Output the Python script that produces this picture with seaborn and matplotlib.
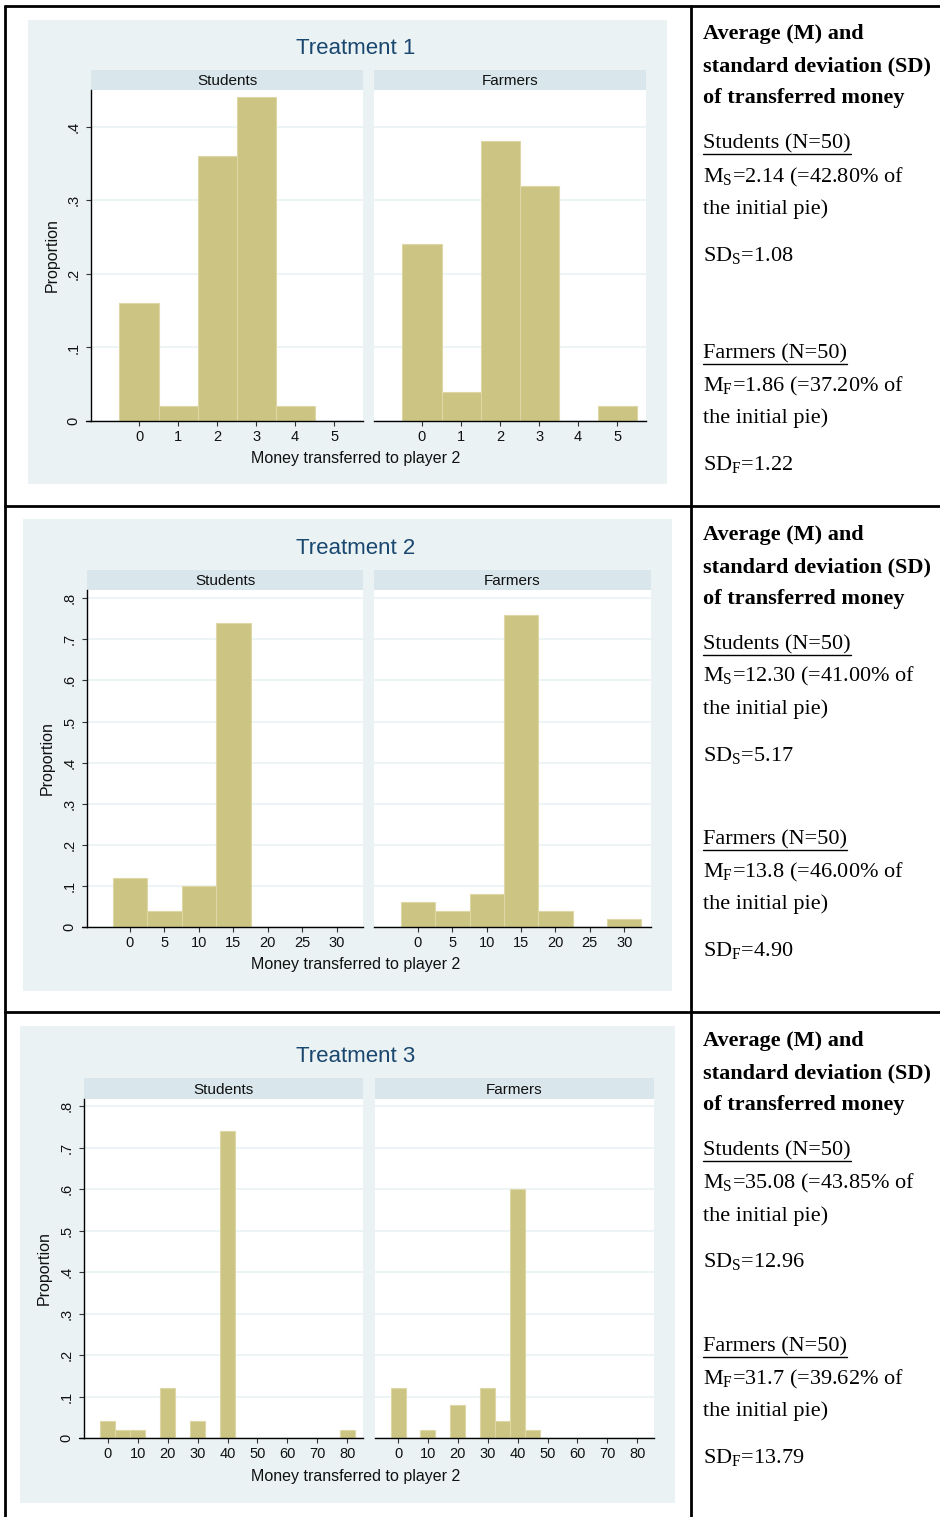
import numpy as np
import pandas as pd
import matplotlib
matplotlib.use("Agg")
import matplotlib.pyplot as plt
import seaborn as sns

# ---------------- data ----------------
t1_values = [0, 1, 2, 3, 4, 5]
t1_students = [0.16, 0.02, 0.36, 0.44, 0.02, 0.00]
t1_farmers = [0.24, 0.04, 0.38, 0.32, 0.00, 0.02]

t2_values = [0, 5, 10, 15, 20, 25, 30]
t2_students = [0.12, 0.04, 0.10, 0.74, 0.00, 0.00, 0.00]
t2_farmers = [0.06, 0.04, 0.08, 0.76, 0.04, 0.00, 0.02]

t3_values = [0, 5, 10, 15, 20, 25, 30, 35, 40, 45, 50, 55, 60, 65, 70, 75, 80]
t3_students = [0.04, 0.02, 0.02, 0.00, 0.12, 0.00, 0.04, 0.00, 0.74, 0.00, 0.00, 0.00, 0.00, 0.00, 0.00, 0.00, 0.02]
t3_farmers = [0.12, 0.00, 0.02, 0.00, 0.08, 0.00, 0.12, 0.04, 0.60, 0.02, 0.00, 0.00, 0.00, 0.00, 0.00, 0.00, 0.00]

titles = ["Treatment 1", "Treatment 2", "Treatment 3"]
groups = ["Students", "Farmers"]
bin_widths = [1, 5, 5]
x_ticks = [[0, 1, 2, 3, 4, 5], [0, 5, 10, 15, 20, 25, 30], [0, 10, 20, 30, 40, 50, 60, 70, 80]]
y_ticks = [[0, 0.1, 0.2, 0.3, 0.4], [0, 0.1, 0.2, 0.3, 0.4, 0.5, 0.6, 0.7, 0.8],
           [0, 0.1, 0.2, 0.3, 0.4, 0.5, 0.6, 0.7, 0.8]]
y_ticklabels = [["0", ".1", ".2", ".3", ".4"],
                ["0", ".1", ".2", ".3", ".4", ".5", ".6", ".7", ".8"],
                ["0", ".1", ".2", ".3", ".4", ".5", ".6", ".7", ".8"]]
xlabel = "Money transferred to player 2"
ylabel = "Proportion"

stats_text = [
    ("Students (N=50)", r"M$_\mathregular{S}$=2.14 (=42.80% of", "the initial pie)", r"SD$_\mathregular{S}$=1.08",
     "Farmers (N=50)", r"M$_\mathregular{F}$=1.86 (=37.20% of", "the initial pie)", r"SD$_\mathregular{F}$=1.22"),
    ("Students (N=50)", r"M$_\mathregular{S}$=12.30 (=41.00% of", "the initial pie)", r"SD$_\mathregular{S}$=5.17",
     "Farmers (N=50)", r"M$_\mathregular{F}$=13.8 (=46.00% of", "the initial pie)", r"SD$_\mathregular{F}$=4.90"),
    ("Students (N=50)", r"M$_\mathregular{S}$=35.08 (=43.85% of", "the initial pie)", r"SD$_\mathregular{S}$=12.96",
     "Farmers (N=50)", r"M$_\mathregular{F}$=31.7 (=39.62% of", "the initial pie)", r"SD$_\mathregular{F}$=13.79"),
]

# ---------------- style ----------------
sns.set_theme(style="white")
plt.rcParams["font.family"] = ["Liberation Sans", "DejaVu Sans"]
plt.rcParams["mathtext.fontset"] = "custom"
plt.rcParams["mathtext.rm"] = "Liberation Serif"
plt.rcParams["mathtext.it"] = "Liberation Serif"

W, H = 940, 1517
fig = plt.figure(figsize=(W / 100, H / 100), dpi=100)
fig.patch.set_facecolor("white")

PANEL_BG = "#EAF2F3"
STRIP_BG = "#D9E6EC"
BAR = "#CCC482"
BAR_EDGE = "#DCD7A4"
TITLE_C = "#1A476F"


def rect(x0, y0, x1, y1):
    return [x0 / W, 1 - y1 / H, (x1 - x0) / W, (y1 - y0) / H]


layouts = [
    dict(panel=(28, 20, 667, 484), title_y=48, strip_top=70, plot_top=90, plot_bot=421,
         cols=[(91, 363), (374, 646)], ylim=(0, 0.45), xlims=[(-1.23, 5.74), (-1.23, 5.74)],
         xlabel_y=459, ylabel_x=52, title_x=356),
    dict(panel=(23, 519, 672, 991), title_y=549, strip_top=570, plot_top=590, plot_bot=927,
         cols=[(87, 363), (374, 651)], ylim=(0, 0.82), xlims=[(-6.2, 33.8), (-6.4, 33.9)],
         xlabel_y=965, ylabel_x=47, title_x=356),
    dict(panel=(20, 1026, 675, 1503), title_y=1056, strip_top=1078, plot_top=1099, plot_bot=1438,
         cols=[(84, 363), (375, 654)], ylim=(0, 0.817), xlims=[(-8.0, 85.3), (-7.7, 85.6)],
         xlabel_y=1476, ylabel_x=44, title_x=356),
]

data_rows = [
    (t1_values, [t1_students, t1_farmers]),
    (t2_values, [t2_students, t2_farmers]),
    (t3_values, [t3_students, t3_farmers]),
]

line_ax = fig.add_axes([0, 0, 1, 1], zorder=5)
line_ax.set_xlim(0, W); line_ax.set_ylim(H, 0)
line_ax.axis("off")

for r, L in enumerate(layouts):
    px0, py0, px1, py1 = L["panel"]
    bg = fig.add_axes(rect(px0, py0, px1, py1), zorder=0)
    bg.set_facecolor(PANEL_BG)
    bg.set_xticks([]); bg.set_yticks([])
    for s in bg.spines.values():
        s.set_visible(False)
    fig.text(L["title_x"] / W, 1 - L["title_y"] / H, titles[r], ha="center", va="center",
             fontsize=16, color=TITLE_C)
    values, series = data_rows[r]
    bw = bin_widths[r]
    for c, (cx0, cx1) in enumerate(L["cols"]):
        sax = fig.add_axes(rect(cx0, L["strip_top"], cx1, L["plot_top"]), zorder=1)
        sax.set_facecolor(STRIP_BG)
        sax.set_xticks([]); sax.set_yticks([])
        for s in sax.spines.values():
            s.set_visible(False)
        sax.text(0.5, 0.45, groups[c], ha="center", va="center", fontsize=11,
                 color="#111111", transform=sax.transAxes)
        ax = fig.add_axes(rect(cx0, L["plot_top"], cx1, L["plot_bot"]), zorder=1)
        ax.set_facecolor("white")
        df = pd.DataFrame({"x": values, "w": series[c]})
        for yt in y_ticks[r]:
            ax.axhline(yt, color=PANEL_BG, lw=1.2, zorder=0)
        sns.histplot(data=df, x="x", weights="w", binwidth=bw,
                     binrange=(values[0] - bw / 2, values[-1] + bw / 2), ax=ax, color=BAR,
                     edgecolor=BAR_EDGE, linewidth=0.8, alpha=1, stat="count", zorder=2)
        ax.set_xlim(*L["xlims"][c])
        ax.set_ylim(*L["ylim"])
        ax.set_xlabel(""); ax.set_ylabel("")
        ax.set_xticks(x_ticks[r])
        ax.set_xticklabels([str(v) for v in x_ticks[r]], fontsize=10.5, color="#111111")
        for s in ["top", "right"]:
            ax.spines[s].set_visible(False)
        ax.spines["bottom"].set_color("black"); ax.spines["bottom"].set_linewidth(1.0)
        ax.tick_params(axis="x", which="both", bottom=True, length=3.6, width=0.8,
                       color="#333333", pad=3)
        if c == 0:
            ax.spines["left"].set_color("black"); ax.spines["left"].set_linewidth(1.0)
            ax.set_yticks(y_ticks[r])
            ax.set_yticklabels(y_ticklabels[r], fontsize=10.5, rotation=90, va="center", color="#111111")
            ax.tick_params(axis="y", which="both", left=True, length=3.6, width=0.8,
                           color="#333333", pad=4)
            # x axis line extends slightly left of the y axis (Stata style)
            line_ax.plot([cx0 - 5, cx0], [L["plot_bot"], L["plot_bot"]], color="black", lw=1.0)
        else:
            ax.spines["left"].set_visible(False)
            ax.set_yticks(y_ticks[r])
            ax.tick_params(axis="y", left=False, labelleft=False)
    fig.text(L["ylabel_x"] / W, 1 - ((L["plot_top"] + L["plot_bot"]) / 2) / H, ylabel,
             rotation=90, ha="center", va="center", fontsize=11.5, color="#111111")
    fig.text(L["title_x"] / W, 1 - L["xlabel_y"] / H, xlabel, ha="center", va="center",
             fontsize=11.5, color="#111111")

lw = 2.0
line_ax.plot([5, 5], [6, H], color="black", lw=lw)
line_ax.plot([5, W], [6, 6], color="black", lw=lw)
line_ax.plot([691, 691], [6, H], color="black", lw=lw)
line_ax.plot([5, W], [506, 506], color="black", lw=lw)
line_ax.plot([5, W], [1012, 1012], color="black", lw=lw)

SERIF = ["Liberation Serif", "DejaVu Serif"]
row_offsets = [0, 501, 1007]
header = ["Average (M) and", "standard deviation (SD)", "of transferred money"]
header_y = [34, 66, 98]
body_y_rows = [
    [144, 177, 209, 255, 354, 386, 418, 464],
    [645, 676, 709, 755, 840, 872, 904, 950],
    [1151, 1183, 1216, 1261, 1347, 1379, 1411, 1457],
]
fs = 16
fig.canvas.draw()
renderer = fig.canvas.get_renderer()
for r in range(3):
    for k, hl in enumerate(header):
        line_ax.text(703, header_y[k] + row_offsets[r], hl, fontsize=fs, fontweight="bold",
                     family=SERIF, ha="left", va="center", color="black")
    for k, txt in enumerate(stats_text[r]):
        y = body_y_rows[r][k]
        t = line_ax.text(703, y, txt, fontsize=fs, family=SERIF, ha="left", va="center", color="black")
        if k in (0, 4):
            bb = t.get_window_extent(renderer=renderer)
            line_ax.plot([703, 703 + bb.width], [y + 10, y + 10], color="black", lw=1.0)

fig.savefig("out.png", dpi=100, facecolor="white")
